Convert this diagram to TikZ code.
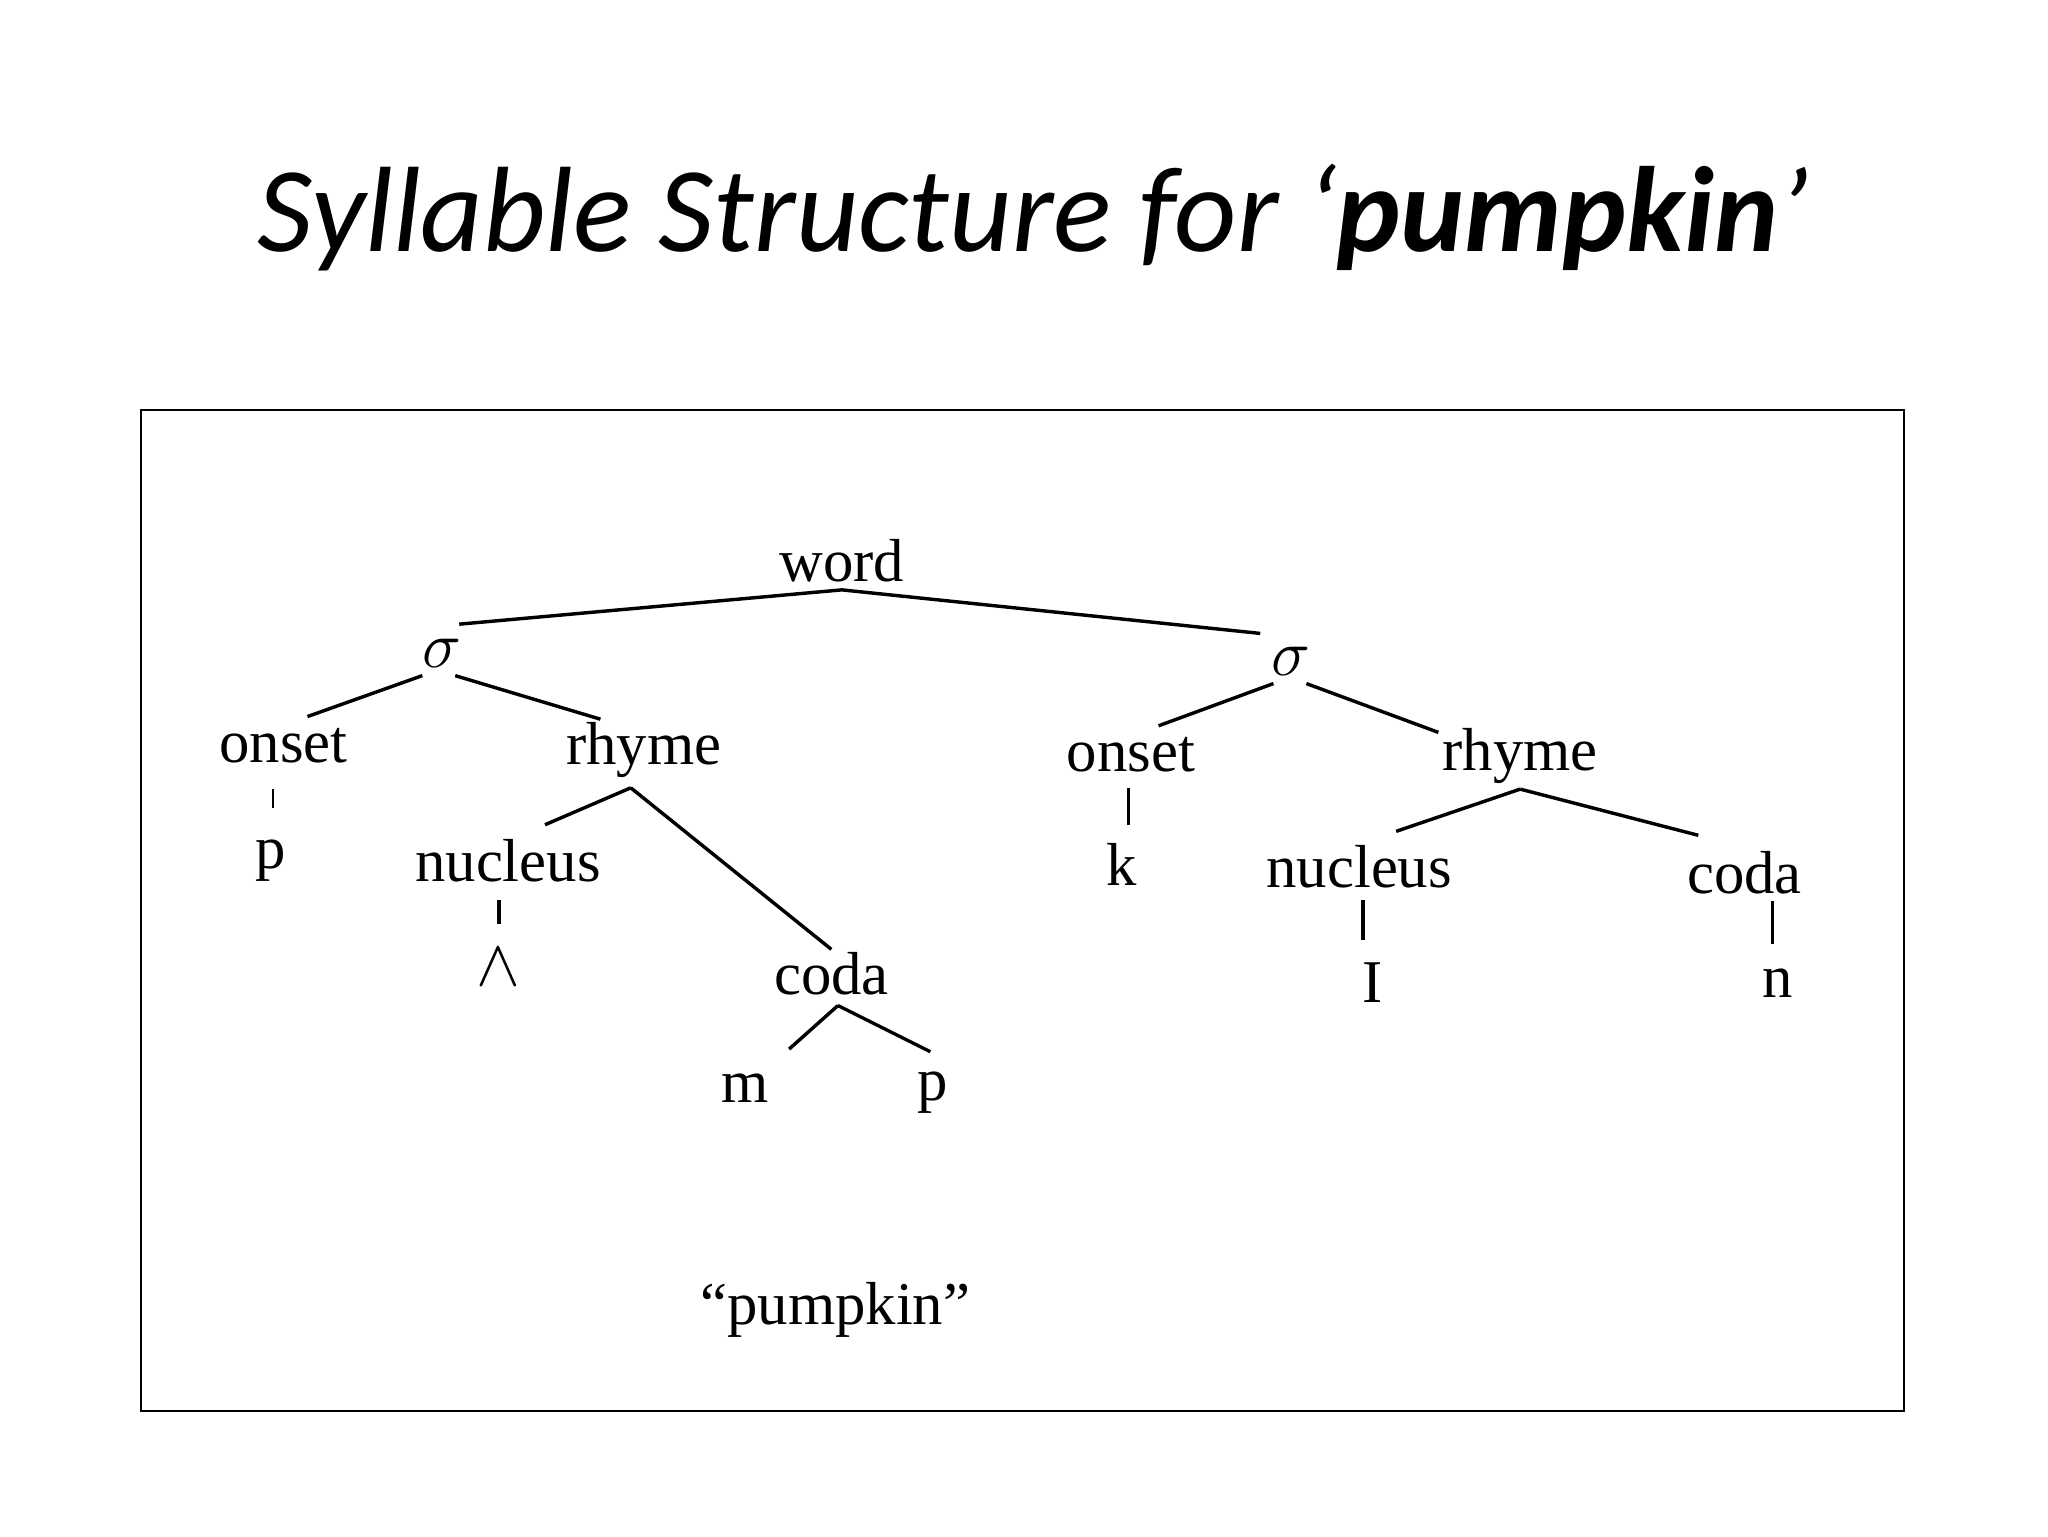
\documentclass[tikz,border=0pt]{standalone}
\usepackage{fontspec}
\newfontfamily\titlefont{Carlito}
\setmainfont{Liberation Serif}
\begin{document}
\begin{tikzpicture}[x=0.5pt,y=-0.5pt,
  lab/.style={font=\fontsize{23}{27}\selectfont,inner sep=1pt},
  br/.style={line width=1.3pt}]
\useasboundingbox (0,0) rectangle (1552,1164);
\node[font=\titlefont\itshape\fontsize{46}{52}\selectfont] (title) at (783,165) {Syllable Structure for ‘\textbf{pumpkin}’};
\draw[line width=0.8pt] (107,311) rectangle (1443,1069);
\node[lab] (word) at (638,425) {word};
\node[lab] (s1) at (335,495) {$\sigma$};
\node[lab] (s2) at (978,501) {$\sigma$};
\node[lab] (on1) at (215,565) {onset};
\node[lab] (rh1) at (488,568) {rhyme};
\node[lab] (p1) at (205,652) {p};
\node[lab] (nu1) at (385,652) {nucleus};
\node[lab] (v1) at (378,733) {$\wedge$};
\node[lab] (co1) at (630,738) {coda};
\node[lab] (m) at (565,825) {m};
\node[lab] (p2) at (707,828) {p};
\node[lab] (on2) at (857,572) {onset};
\node[lab] (k) at (850,655) {k};
\node[lab] (rh2) at (1152,573) {rhyme};
\node[lab] (nu2) at (1030,657) {nucleus};
\node[lab] (co2) at (1322,661) {coda};
\node[lab] (I) at (1040,745) {I};
\node[lab] (n) at (1347,745) {n};
\node[lab] (pk) at (633,993) {“pumpkin”};
\coordinate (wl) at (348,473); \coordinate (wm) at (638,447); \coordinate (wr) at (955,480);
\draw[br] (wl) -- (wm) -- (wr);
\draw[br] (320,512) -- (233,543);
\draw[br] (345,512) -- (455,545);
\draw[br] (478,597) -- (413,625);
\draw[br] (478,597) -- (co1.north);
\draw[br] (635,762) -- (598,795);
\draw[br] (635,762) -- (705,797);
\draw[line width=0.5pt] (207,598) -- (207,612);
\draw[br] (378,682) -- (378,700);
\draw[br] (965,518) -- (878,550);
\draw[br] (990,518) -- (1090,555);
\draw[br] (855,597) -- (855,625);
\draw[br] (1152,598) -- (1058,630);
\draw[br] (1152,598) -- (1287,633);
\draw[br] (1033,682) -- (1033,712);
\draw[br] (1343,683) -- (1343,715);
\end{tikzpicture}
\end{document}
